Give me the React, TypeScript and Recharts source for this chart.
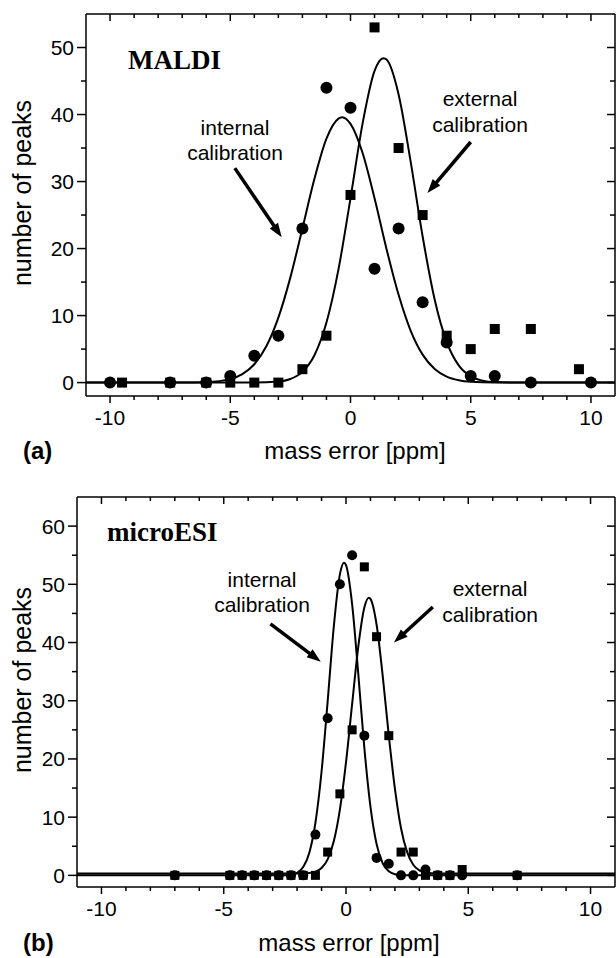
import React from 'react';
import { ComposedChart, Line, Scatter, XAxis, YAxis, ReferenceLine } from 'recharts';

// ---------- tick values ----------
const xTicks = [-10, -9, -8, -7, -6, -5, -4, -3, -2, -1, 0, 1, 2, 3, 4, 5, 6, 7, 8, 9, 10];
const yTicksA = [0, 5, 10, 15, 20, 25, 30, 35, 40, 45, 50];
const yTicksB = [0, 5, 10, 15, 20, 25, 30, 35, 40, 45, 50, 55, 60];

// ---------- panel (a) MALDI: measured points ----------
const intA_x = [-10, -7.5, -6, -5, -4, -3, -2, -1, 0, 1, 2, 3, 4, 5, 6, 7.5, 10];
const intA_y = [0, 0, 0, 1, 4, 7, 23, 44, 41, 17, 23, 12, 6, 1, 1, 0, 0];
const extA_x = [-9.5, -7.5, -6, -5, -4, -3, -2, -1, 0, 1, 2, 3, 4, 5, 6, 7.5, 9.5];
const extA_y = [0, 0, 0, 0, 0, 0, 2, 7, 28, 53, 35, 25, 7, 5, 8, 8, 2];

// ---------- panel (a) fitted curves ----------
const intFitA_x = [-11, -7, -6, -5, -4.5, -4, -3.5, -3, -2.5, -2, -1.5, -1, -0.5, -0.35, 0, 0.5, 1, 1.5, 2, 2.5, 3, 3.5, 4, 4.5, 5, 6, 7, 11];
const intFitA_y = [0, 0, 0.07, 0.52, 1.26, 2.74, 5.42, 9.7, 15.7, 23.0, 30.4, 36.4, 39.4, 39.6, 38.6, 34.3, 27.5, 19.9, 13.1, 7.77, 4.17, 2.03, 0.9, 0.36, 0.13, 0.01, 0, 0];
const extFitA_x = [-11, -4, -3, -2.5, -2, -1.5, -1, -0.5, 0, 0.5, 1, 1.37, 1.5, 2, 2.5, 3, 3.5, 4, 4.5, 5, 5.5, 6, 7, 11];
const extFitA_y = [0, 0, 0.16, 0.54, 1.6, 4.08, 8.96, 16.9, 27.5, 38.6, 46.5, 48.4, 48.2, 43.0, 33.0, 21.8, 12.4, 6.07, 2.56, 0.92, 0.29, 0.08, 0, 0];

// ---------- panel (b) microESI: measured points ----------
const intB_x = [-7, -4.75, -4.25, -3.75, -3.25, -2.75, -2.25, -1.75, -1.25, -0.75, -0.25, 0.25, 0.75, 1.25, 1.75, 2.25, 2.75, 3.25, 3.75, 4.25, 4.75, 7];
const intB_y = [0, 0, 0, 0, 0, 0, 0, 0, 7, 27, 50, 55, 24, 3, 2, 0, 0, 1, 0, 0, 0, 0];
const extB_x = [-7, -4.75, -4.25, -3.75, -3.25, -2.75, -2.25, -1.75, -1.25, -0.75, -0.25, 0.25, 0.75, 1.25, 1.75, 2.25, 2.75, 3.25, 3.75, 4.25, 4.75, 7];
const extB_y = [0, 0, 0, 0, 0, 0, 0, 0, 0, 4, 14, 25, 53, 41, 24, 4, 4, 0, 0, 0, 1, 0];

// ---------- panel (b) fitted curves ----------
const intFitB_x = [-11, -3, -2.5, -2.25, -2, -1.75, -1.5, -1.25, -1, -0.75, -0.5, -0.25, -0.08, 0, 0.25, 0.5, 0.75, 1, 1.25, 1.5, 1.75, 2, 2.25, 2.5, 3, 11];
const intFitB_y = [0, 0, 0.03, 0.12, 0.44, 1.42, 3.89, 9.04, 17.8, 29.9, 42.7, 51.7, 53.7, 53.3, 46.6, 34.7, 21.9, 11.8, 5.39, 2.08, 0.69, 0.19, 0.05, 0, 0, 0];
const extFitB_x = [-11, -2, -1.5, -1.25, -1, -0.75, -0.5, -0.25, 0, 0.25, 0.5, 0.75, 0.935, 1, 1.25, 1.5, 1.75, 2, 2.25, 2.5, 2.75, 3, 3.25, 3.5, 4, 11];
const extFitB_y = [0.3, 0.3, 0.4, 0.63, 1.26, 2.76, 5.85, 11.3, 19.4, 29.4, 39.2, 46.0, 47.7, 47.5, 43.1, 34.3, 24.0, 14.9, 8.1, 4.0, 1.83, 0.86, 0.48, 0.35, 0.3, 0.3];

// ---------- annotation arrows (data units: start, tip) ----------
const arrowIntA = [{ x: -4.81, y: 32.0 }, { x: -2.86, y: 21.7 }];
const arrowExtA = [{ x: 5.0, y: 35.9 }, { x: 3.2, y: 28.3 }];
const arrowIntB = [{ x: -3.09, y: 43.2 }, { x: -1.03, y: 36.7 }];
const arrowExtB = [{ x: 3.55, y: 46.1 }, { x: 1.96, y: 40.0 }];

const zip = (xs: number[], ys: number[]) => xs.map((x, i) => ({ x, y: ys[i] }));

const SANS = '"Liberation Sans", Arial, Helvetica, sans-serif';
const SERIF = '"Liberation Serif", "Times New Roman", serif';
const AX = 1.5;

// bottom axis tick (outward) + mirrored inward tick on the top frame at topY
const makeBottomTick = (topY: number) => (p: any) => {
  const v = p.payload.value;
  const major = v % 5 === 0;
  const len = major ? 7 : 4;
  return (
    <g>
      <line x1={p.x} y1={p.y} x2={p.x} y2={p.y + len} stroke="#000" strokeWidth={AX} />
      <line x1={p.x} y1={topY} x2={p.x} y2={topY + len} stroke="#000" strokeWidth={AX} />
      {major && (
        <text x={p.x} y={p.y + 29} textAnchor="middle" fontSize={21} fontFamily={SANS} fill="#000">
          {v}
        </text>
      )}
    </g>
  );
};
// left axis tick (outward) + mirrored inward tick on the right frame at rightX
const makeLeftTick = (rightX: number) => (p: any) => {
  const v = p.payload.value;
  const major = v % 10 === 0;
  const len = major ? 9 : 5;
  const rlen = major ? 8 : 5;
  return (
    <g>
      <line x1={p.x - len} y1={p.y} x2={p.x} y2={p.y} stroke="#000" strokeWidth={AX} />
      <line x1={rightX - rlen} y1={p.y} x2={rightX} y2={p.y} stroke="#000" strokeWidth={AX} />
      {major && (
        <text x={p.x - 12} y={p.y + 7.5} textAnchor="end" fontSize={21} fontFamily={SANS} fill="#000">
          {v}
        </text>
      )}
    </g>
  );
};

const Dot = (p: any) => <circle cx={p.cx} cy={p.cy} r={6} fill="#000" />;
const Sq = (p: any) => <rect x={p.cx - 5} y={p.cy - 5} width={10} height={10} fill="#000" />;
const DotB = (p: any) => <circle cx={p.cx} cy={p.cy} r={5} fill="#000" />;
const SqB = (p: any) => <rect x={p.cx - 4.5} y={p.cy - 4.5} width={9} height={9} fill="#000" />;

const Arrow = (p: any) => {
  const { x1, y1, x2, y2 } = p;
  const dx = x2 - x1;
  const dy = y2 - y1;
  const L = Math.hypot(dx, dy) || 1;
  const ux = dx / L;
  const uy = dy / L;
  const hl = 14;
  const hw = 5;
  const bx = x2 - ux * hl;
  const by = y2 - uy * hl;
  return (
    <g>
      <line x1={x1} y1={y1} x2={bx + ux * 2} y2={by + uy * 2} stroke="#000" strokeWidth={3.5} />
      <polygon points={`${x2},${y2} ${bx - uy * hw},${by + ux * hw} ${bx + uy * hw},${by - ux * hw}`} fill="#000" />
    </g>
  );
};

const Frame = (p: any) => <line x1={p.x1} y1={p.y1} x2={p.x2} y2={p.y2} stroke="#000" strokeWidth={AX} />;

type PanelProps = {
  height: number;
  margin: { top: number; right: number; bottom: number; left: number };
  yAxisWidth: number;
  xAxisHeight: number;
  yDomain: [number, number];
  yTicks: number[];
  intPts: { x: number; y: number }[];
  extPts: { x: number; y: number }[];
  intFit: { x: number; y: number }[];
  extFit: { x: number; y: number }[];
  arrows: { x: number; y: number }[][];
  small?: boolean;
};

const Panel = (pp: PanelProps) => (
  <ComposedChart width={616} height={pp.height} margin={pp.margin}>
    <XAxis
      xAxisId="b"
      type="number"
      dataKey="x"
      domain={[-11, 11]}
      ticks={xTicks}
      interval={0}
      allowDataOverflow
      tick={makeBottomTick(pp.margin.top)}
      tickLine={false}
      tickSize={0}
      tickMargin={0}
      height={pp.xAxisHeight}
      axisLine={{ stroke: '#000', strokeWidth: AX }}
    />
    <YAxis
      yAxisId="l"
      type="number"
      dataKey="y"
      domain={pp.yDomain}
      ticks={pp.yTicks}
      interval={0}
      allowDataOverflow
      tick={makeLeftTick(616 - pp.margin.right)}
      tickLine={false}
      tickSize={0}
      tickMargin={0}
      width={pp.yAxisWidth}
      axisLine={{ stroke: '#000', strokeWidth: AX }}
    />
    {/* frame border lines (top and right) */}
    <ReferenceLine xAxisId="b" yAxisId="l" y={pp.yDomain[1]} shape={Frame} ifOverflow="visible" />
    <ReferenceLine xAxisId="b" yAxisId="l" x={11} shape={Frame} ifOverflow="visible" />
    <Line xAxisId="b" yAxisId="l" data={pp.intFit} dataKey="y" type="monotone" stroke="#000" strokeWidth={2} dot={false} activeDot={false} isAnimationActive={false} />
    <Line xAxisId="b" yAxisId="l" data={pp.extFit} dataKey="y" type="monotone" stroke="#000" strokeWidth={2} dot={false} activeDot={false} isAnimationActive={false} />
    <Scatter xAxisId="b" yAxisId="l" data={pp.extPts} dataKey="y" shape={pp.small ? SqB : Sq} isAnimationActive={false} />
    <Scatter xAxisId="b" yAxisId="l" data={pp.intPts} dataKey="y" shape={pp.small ? DotB : Dot} isAnimationActive={false} />
    {pp.arrows.map((seg, i) => (
      <ReferenceLine key={i} xAxisId="b" yAxisId="l" segment={seg} shape={Arrow} ifOverflow="visible" />
    ))}
  </ComposedChart>
);

const T = (p: { x: number; y: number; children: React.ReactNode; anchor?: string; size?: number; bold?: boolean; family?: string; rotate?: boolean }) => (
  <text
    x={p.x}
    y={p.y}
    textAnchor={(p.anchor as any) || 'middle'}
    fontSize={p.size || 21}
    fontWeight={p.bold ? 'bold' : 'normal'}
    fontFamily={p.family || SANS}
    fill="#000"
    transform={p.rotate ? `rotate(-90 ${p.x} ${p.y})` : undefined}
  >
    {p.children}
  </text>
);

export default function App() {
  return (
    <div style={{ position: 'absolute', left: 0, top: 0, width: 616, height: 958, background: '#fff', overflow: 'hidden' }}>
      <div style={{ position: 'absolute', left: 0, top: 0 }}>
        <Panel
          height={460}
          margin={{ top: 14, right: 1, bottom: 0, left: 0 }}
          yAxisWidth={86}
          xAxisHeight={64}
          yDomain={[-2, 55]}
          yTicks={yTicksA}
          intPts={zip(intA_x, intA_y)}
          extPts={zip(extA_x, extA_y)}
          intFit={zip(intFitA_x, intFitA_y)}
          extFit={zip(extFitA_x, extFitA_y)}
          arrows={[arrowIntA, arrowExtA]}
        />
      </div>
      <div style={{ position: 'absolute', left: 0, top: 460 }}>
        <Panel
          height={498}
          margin={{ top: 37, right: 1, bottom: 0, left: 0 }}
          yAxisWidth={77}
          xAxisHeight={71}
          yDomain={[-2, 65]}
          yTicks={yTicksB}
          intPts={zip(intB_x, intB_y)}
          extPts={zip(extB_x, extB_y)}
          intFit={zip(intFitB_x, intFitB_y)}
          extFit={zip(extFitB_x, extFitB_y)}
          arrows={[arrowIntB, arrowExtB]}
          small
        />
      </div>
      <svg width={616} height={958} style={{ position: 'absolute', left: 0, top: 0, pointerEvents: 'none' }}>
        {/* panel (a) */}
        <T x={128} y={69} anchor="start" size={27} bold family={SERIF}>MALDI</T>
        <T x={235} y={135}>internal</T>
        <T x={235} y={160}>calibration</T>
        <T x={480} y={106}>external</T>
        <T x={480} y={132}>calibration</T>
        <T x={31} y={193} size={25} rotate>number of peaks</T>
        <T x={355} y={459} size={24}>mass error [ppm]</T>
        <T x={23} y={459} anchor="start" size={24} bold>(a)</T>
        {/* panel (b) */}
        <T x={107} y={541} anchor="start" size={27} bold family={SERIF}>microESI</T>
        <T x={262} y={587}>internal</T>
        <T x={262} y={612}>calibration</T>
        <T x={490} y={596}>external</T>
        <T x={490} y={622}>calibration</T>
        <T x={31} y={680} size={25} rotate>number of peaks</T>
        <T x={349} y={951} size={24}>mass error [ppm]</T>
        <T x={23} y={951} anchor="start" size={24} bold>(b)</T>
      </svg>
    </div>
  );
}
